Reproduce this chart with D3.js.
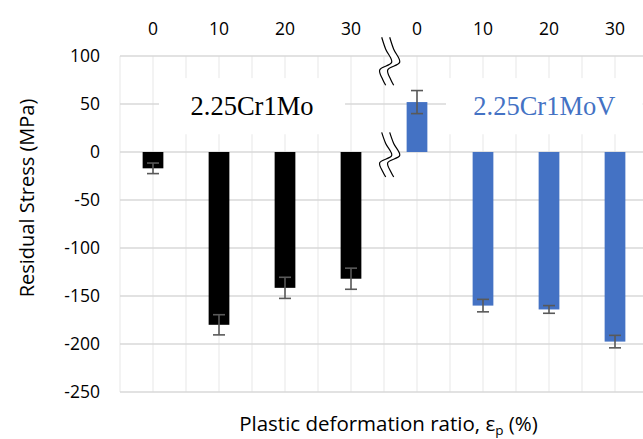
<!DOCTYPE html>
<html>
<head>
<meta charset="utf-8">
<script src="https://cdn.jsdelivr.net/npm/d3@7"></script>
<style>
  html, body { margin: 0; padding: 0; background: #fff; }
  svg { display: block; }
</style>
</head>
<body>
<svg id="chart" width="643" height="439"></svg>
<script>
// Strain levels (%) for each alloy, shown along the top
const strainLabels = ["0", "10", "20", "30", "0", "10", "20", "30"];
// Alloy of each bar
const alloys = ["2.25Cr1Mo", "2.25Cr1Mo", "2.25Cr1Mo", "2.25Cr1Mo",
                "2.25Cr1MoV", "2.25Cr1MoV", "2.25Cr1MoV", "2.25Cr1MoV"];
// Residual stress (MPa) and its scatter (± MPa)
const stress = [-17, -180, -141.5, -132, 52, -160, -164, -197.5];
const scatter = [5.5, 10.5, 11, 11, 12, 6.5, 4, 6.5];
// Value axis ticks
const yTicks = [100, 50, 0, -50, -100, -150, -200, -250];

const colors = { "2.25Cr1Mo": "#000000", "2.25Cr1MoV": "#4472C4" };

const svg = d3.select("#chart");
const W = 643, H = 439;
const plot = { left: 120, right: 648, top: 56, bottom: 392 };

const x = d3.scaleBand()
  .domain(d3.range(strainLabels.length))
  .range([plot.left, plot.right])
  .paddingInner(0).paddingOuter(0);
const y = d3.scaleLinear().domain([-250, 100]).range([plot.bottom, plot.top]);
const bw = x.bandwidth();
const barW = bw * 0.314;

const font = "'Open Sans', 'Noto Sans', sans-serif";

svg.append("defs").append("clipPath").attr("id", "clip")
  .append("rect").attr("x", 0).attr("y", 0).attr("width", W).attr("height", H);
const g = svg.append("g").attr("clip-path", "url(#clip)");

// Vertical gridlines at every band edge and band centre
const vLines = [];
for (let i = 0; i <= strainLabels.length * 2; i++) vLines.push(plot.left + i * bw / 2);
g.append("g").selectAll("line").data(vLines).join("line")
  .attr("x1", d => d).attr("x2", d => d)
  .attr("y1", plot.top).attr("y2", plot.bottom)
  .attr("stroke", "#eeeeee").attr("stroke-width", 1.4);

// Horizontal gridlines
g.append("g").selectAll("line").data(yTicks).join("line")
  .attr("x1", plot.left).attr("x2", plot.right)
  .attr("y1", d => y(d)).attr("y2", d => y(d))
  .attr("stroke", "#d9d9d9").attr("stroke-width", 1.4);

// Alloy labels on white boxes
const labelBoxes = [
  { text: "2.25Cr1Mo", x0: x(0) + bw / 2 + 6, x1: x(3) + bw * 0.41, color: colors["2.25Cr1Mo"] },
  { text: "2.25Cr1MoV", x0: x(4) + bw / 2 + 29, x1: x(7) + bw * 0.92, color: colors["2.25Cr1MoV"] }
];
const boxTop = y(77), boxBot = y(18.5);
labelBoxes.forEach(b => {
  g.append("rect").attr("x", b.x0).attr("y", boxTop)
    .attr("width", b.x1 - b.x0).attr("height", boxBot - boxTop).attr("fill", "#fff");
  g.append("text").attr("x", (b.x0 + b.x1) / 2).attr("y", y(38.5))
    .attr("text-anchor", "middle")
    .attr("font-family", "'Liberation Serif', 'Times New Roman', serif")
    .attr("font-size", 26.5).attr("fill", b.color).text(b.text);
});

// Bars
g.append("g").selectAll("rect").data(stress).join("rect")
  .attr("x", (d, i) => x(i) + (bw - barW) / 2)
  .attr("width", barW)
  .attr("y", d => y(Math.max(0, d)))
  .attr("height", d => Math.abs(y(d) - y(0)))
  .attr("fill", (d, i) => colors[alloys[i]]);

// Error bars
const eb = g.append("g").attr("stroke", "#595959").attr("stroke-width", 1.6).attr("fill", "none");
stress.forEach((v, i) => {
  const cx = x(i) + bw / 2;
  const hi = y(v + scatter[i]), lo = y(v - scatter[i]);
  eb.append("line").attr("x1", cx).attr("x2", cx).attr("y1", hi).attr("y2", lo);
  eb.append("line").attr("x1", cx - 6).attr("x2", cx + 6).attr("y1", hi).attr("y2", hi);
  eb.append("line").attr("x1", cx - 6).attr("x2", cx + 6).attr("y1", lo).attr("y2", lo);
});

// Axis break marks between the two alloys
const breakX = x(4) - 2.3;
function breakMark(yTop, yBot) {
  const h = yBot - yTop;
  const pts = (dx) => [
    [breakX + dx, yTop],
    [breakX + dx + 4, yTop + h * 0.25],
    [breakX + dx + 10, yTop + h * 0.52],
    [breakX + dx - 2, yTop + h * 0.68],
    [breakX + dx + 1, yTop + h * 0.88],
    [breakX + dx + 4, yTop + h]
  ];
  const a = pts(0), b = pts(8);
  const line = d3.line().curve(d3.curveCatmullRom.alpha(0.5));
  g.append("path")
    .attr("d", d3.line()(a.concat(b.slice().reverse())) + "Z")
    .attr("fill", "#fff").attr("stroke", "none");
  [a, b].forEach(p => g.append("path").attr("d", line(p))
    .attr("fill", "none").attr("stroke", "#000").attr("stroke-width", 1.2));
}
breakMark(y(119.5), y(69.5));
breakMark(y(20.5), y(-26));

// Category labels along the top
svg.append("g").selectAll("text").data(strainLabels).join("text")
  .attr("x", (d, i) => x(i) + bw / 2).attr("y", 34.5)
  .attr("text-anchor", "middle")
  .attr("font-family", font).attr("font-size", 17.5).attr("fill", "#000")
  .text(d => d);

// Value axis labels
svg.append("g").selectAll("text").data(yTicks).join("text")
  .attr("x", 100).attr("y", d => y(d)).attr("dy", "0.35em")
  .attr("text-anchor", "end")
  .attr("font-family", font).attr("font-size", 17.5).attr("fill", "#000")
  .text(d => d);

// Axis titles
svg.append("text")
  .attr("transform", "translate(33.5,198) rotate(-90)")
  .attr("text-anchor", "middle")
  .attr("font-family", font).attr("font-size", 20).attr("fill", "#000")
  .text("Residual Stress (MPa)");

const xt = svg.append("text")
  .attr("x", 388.5).attr("y", 431)
  .attr("text-anchor", "middle")
  .attr("font-family", font).attr("font-size", 20.5).attr("fill", "#000");
xt.append("tspan").text("Plastic deformation ratio, ε");
xt.append("tspan").attr("font-size", 13.5).attr("dy", 3.5).text("p");
xt.append("tspan").attr("dy", -3.5).text(" (%)");
</script>
</body>
</html>
